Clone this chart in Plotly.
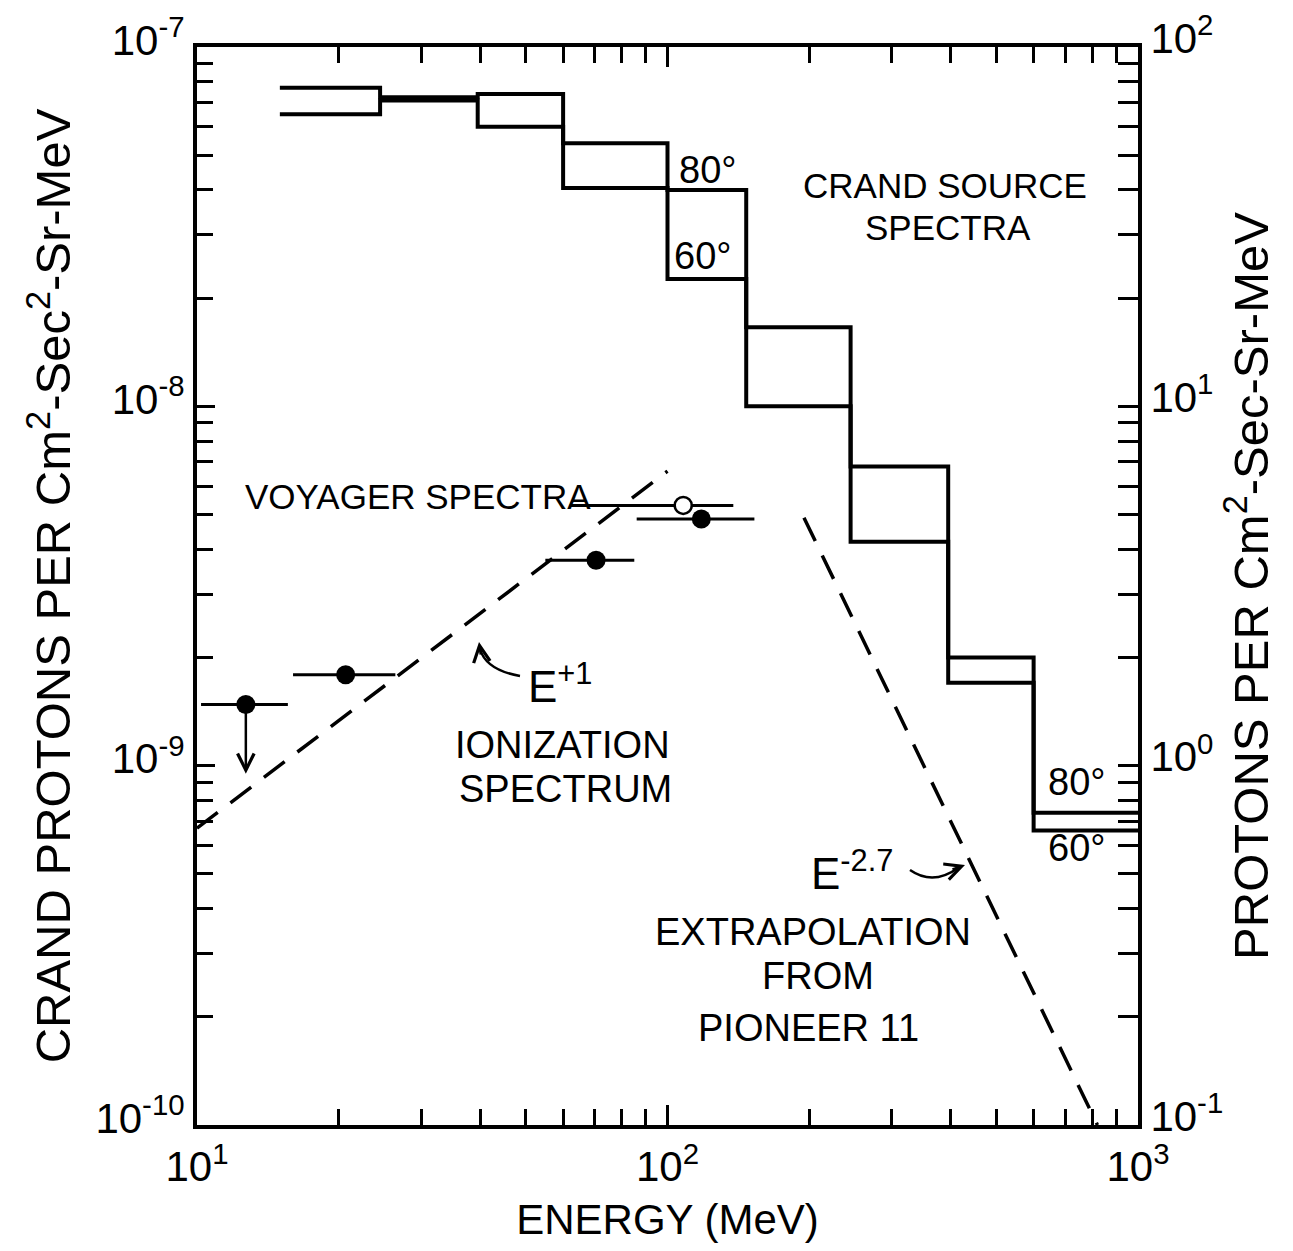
import numpy as np
import plotly.graph_objects as go

FONT = "Liberation Sans, Arial, sans-serif"

# Crand source spectra (histogram, two zenith angles)
bin_edges_mev = [15, 24.5, 39.5, 60, 100, 147, 245, 395, 600, 1000]
crand_80deg = [7.7e-8, 7.25e-8, 7.4e-8, 5.4e-8, 4.0e-8, 1.66e-8, 6.8e-9, 2.0e-9, 7.4e-10]
crand_60deg = [6.5e-8, 7.1e-8, 6.0e-8, 4.05e-8, 2.26e-8, 1.0e-8, 4.2e-9, 1.7e-9, 6.6e-10]

# Voyager spectra (filled points)
voyager_energy = [12.7, 20.7, 70.5, 118]
voyager_flux = [1.48e-9, 1.79e-9, 3.73e-9, 4.86e-9]
voyager_e_lo = [10.2, 16.0, 55, 86]
voyager_e_hi = [15.6, 26.4, 85, 153]
# Voyager open point
voyager_open_energy = [108]
voyager_open_flux = [5.3e-9]
voyager_open_lo = [62]
voyager_open_hi = [138]
# upper limit arrow on the lowest point
limit_energy = 12.7
limit_flux_to = 9.5e-10

# E^+1 ionization spectrum and E^-2.7 extrapolation from Pioneer 11
ionization_energy = [10, 100]
ionization_flux = [6.7e-10, 6.6e-9]
pioneer_energy = [195, 820]
pioneer_flux = [4.9e-9, 1.0e-10]

left_ticks = [1e-10, 1e-9, 1e-8, 1e-7]
left_ticktext = ["10<sup>-10</sup>", "10<sup>-9</sup>", "10<sup>-8</sup>", "10<sup>-7</sup>"]
right_ticks = [0.1, 1, 10, 100]
right_ticktext = ["10<sup>-1</sup>", "10<sup>0</sup>", "10<sup>1</sup>", "10<sup>2</sup>"]
x_ticks = [10, 100, 1000]
x_ticktext = ["10<sup>1</sup>", "10<sup>2</sup>", "10<sup>3</sup>"]

W, H = 1293, 1251
L, R, T, B = 189, 163, 39, 134
PW, PH = W - L - R, H - T - B


def px(x, y):
    return (x - L) / PW, (H - B - y) / PH


def minor_vals(decades):
    return [m * 10.0 ** d for d in decades for m in range(2, 10)]


fig = go.Figure()

steps_y80 = crand_80deg + [crand_80deg[-1]]
steps_y60 = crand_60deg + [crand_60deg[-1]]
for ys, name in [(steps_y80, "80°"), (steps_y60, "60°")]:
    fig.add_trace(go.Scatter(x=bin_edges_mev, y=ys, mode="lines", line=dict(color="black", width=4, shape="hv"),
                             name=name, showlegend=False))

dash = "26px,16px"
fig.add_trace(go.Scatter(x=ionization_energy, y=ionization_flux, mode="lines",
                         line=dict(color="black", width=3.5, dash=dash), showlegend=False))
fig.add_trace(go.Scatter(x=pioneer_energy, y=pioneer_flux, mode="lines",
                         line=dict(color="black", width=3.5, dash=dash), showlegend=False))

e = np.array(voyager_energy)
fig.add_trace(go.Scatter(
    x=voyager_energy, y=voyager_flux, mode="markers",
    marker=dict(color="black", size=19, symbol="circle"),
    error_x=dict(type="data", symmetric=False, array=list(np.array(voyager_e_hi) - e),
                 arrayminus=list(e - np.array(voyager_e_lo)), width=0, thickness=3, color="black"),
    showlegend=False))
eo = np.array(voyager_open_energy)
fig.add_trace(go.Scatter(
    x=voyager_open_energy, y=voyager_open_flux, mode="markers",
    marker=dict(color="white", size=17, symbol="circle", line=dict(color="black", width=2.5)),
    error_x=dict(type="data", symmetric=False, array=list(np.array(voyager_open_hi) - eo),
                 arrayminus=list(eo - np.array(voyager_open_lo)), width=0, thickness=3, color="black"),
    showlegend=False))

# right-hand axis in different units (same spectra scaled by 1e9); empty trace just to activate it
fig.add_trace(go.Scatter(x=[], y=[], yaxis="y2", showlegend=False, hoverinfo="skip"))

texts = [
    ("VOYAGER SPECTRA", 410, 488, 35),
    ("80°", 699, 162, 38),
    ("60°", 694, 248, 38),
    ("CRAND SOURCE", 937, 177, 35),
    ("SPECTRA", 940, 220, 35),
    ("IONIZATION", 554, 737, 38),
    ("SPECTRUM", 557, 781, 38),
    ("80°", 1068, 774, 38),
    ("60°", 1068, 840, 38),
    ("EXTRAPOLATION", 805, 924, 38),
    ("FROM", 810, 968, 38),
    ("PIONEER 11", 800, 1020, 38),
]
annotations = []
for txt, x, y, size in texts:
    xp, yp = px(x, y)
    annotations.append(dict(text=txt, x=xp, y=yp, xref="paper", yref="paper", showarrow=False,
                            font=dict(family=FONT, size=size, color="black"),
                            xanchor="center", yanchor="middle"))
for txt, x, y in [("E<sup>+1</sup>", 518, 676), ("E<sup>-2.7</sup>", 801, 862)]:
    xp, yp = px(x, y)
    annotations.append(dict(text=txt, x=xp, y=yp, xref="paper", yref="paper", showarrow=False,
                            font=dict(family=FONT, size=44, color="black"), xanchor="left", yanchor="middle"))

# arrow heads
for (hx, hy, ax, ay) in [(471, 634, 2, 14), (957, 857, -14, 5)]:
    xp, yp = px(hx, hy)
    annotations.append(dict(x=xp, y=yp, xref="paper", yref="paper", ax=ax, ay=ay, text="",
                            showarrow=True, arrowhead=5, arrowsize=1.3, arrowwidth=2.5, arrowcolor="black"))
annotations.append(dict(x=np.log10(limit_energy), y=np.log10(limit_flux_to), xref="x", yref="y",
                        ax=np.log10(limit_energy), ay=np.log10(voyager_flux[0]), axref="x", ayref="y",
                        text="", showarrow=True, arrowhead=5, arrowsize=1.3, arrowwidth=2.5,
                        arrowcolor="black"))


def curve(p0, c, p1):
    a, b = px(*p0)
    cx, cy = px(*c)
    d, f = px(*p1)
    return f"M {a} {b} Q {cx} {cy} {d} {f}"


shapes = [
    dict(type="path", xref="paper", yref="paper", path=curve((512, 668), (478, 662), (472, 641)),
         line=dict(color="black", width=2.5)),
    dict(type="path", xref="paper", yref="paper", path=curve((902, 862), (925, 878), (950, 860)),
         line=dict(color="black", width=2.5)),
]

axis_common = dict(type="log", showline=True, linewidth=4, linecolor="black", showgrid=False,
                   zeroline=False, ticks="inside", tickwidth=3, tickcolor="black",
                   tickfont=dict(family=FONT, size=42, color="black"))

fig.update_layout(
    width=W, height=H,
    margin=dict(l=L, r=R, t=T, b=B, autoexpand=False),
    paper_bgcolor="white", plot_bgcolor="white",
    showlegend=False,
    annotations=annotations,
    shapes=shapes,
    xaxis=dict(axis_common, range=[1, 3], mirror="ticks", ticklen=20, tickvals=x_ticks, ticktext=x_ticktext,
               minor=dict(ticks="inside", ticklen=16, tickwidth=3, tickcolor="black",
                          tickvals=minor_vals([1, 2])),
               ticklabelstandoff=2,
               title=dict(text="ENERGY (MeV)", font=dict(family=FONT, size=42, color="black"), standoff=16)),
    yaxis=dict(axis_common, range=[-10, -7], ticklen=18, tickvals=left_ticks, ticktext=left_ticktext,
               ticklabelshift=-7, ticklabeloverflow="allow",
               minor=dict(ticks="inside", ticklen=16, tickwidth=3, tickcolor="black",
                          tickvals=minor_vals([-10, -9, -8])),
               title=dict(text="CRAND PROTONS PER Cm<sup>2</sup>-Sec<sup>2</sup>-Sr-MeV",
                          font=dict(family=FONT, size=49, color="black"), standoff=10)),
    yaxis2=dict(axis_common, range=[-1, 2], overlaying="y", side="right", ticklen=20,
                tickvals=right_ticks, ticktext=right_ticktext, ticklabelshift=-9,
                ticklabeloverflow="allow",
                minor=dict(ticks="inside", ticklen=20, tickwidth=3, tickcolor="black",
                           tickvals=minor_vals([-1, 0, 1])),
                title=dict(text="PROTONS PER Cm<sup>2</sup>-Sec-Sr-MeV",
                           font=dict(family=FONT, size=49, color="black"), standoff=12)),
)

fig.write_html("out.html")
